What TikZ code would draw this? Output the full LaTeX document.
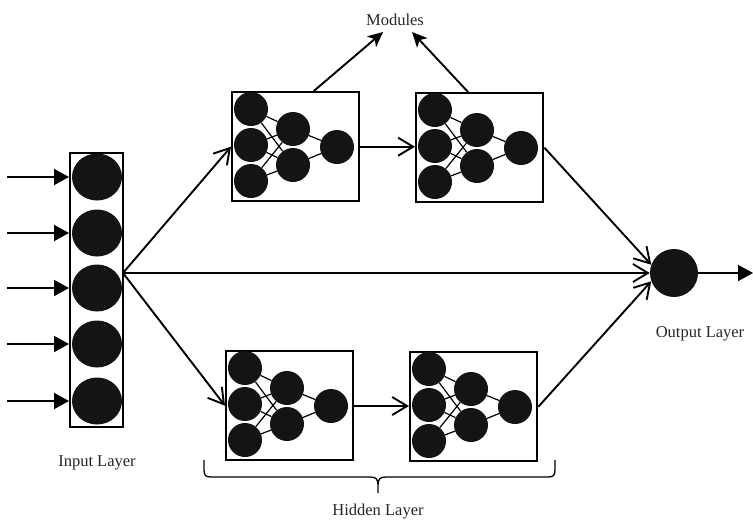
\documentclass[tikz,border=0pt]{standalone}
\usepackage{fontspec}
\setmainfont{Liberation Serif}
\usetikzlibrary{arrows.meta,shapes.geometric,calc}
\begin{document}
\begin{tikzpicture}[x=1pt,y=-1pt,
  neuron/.style={circle,fill=black!92,inner sep=0pt,minimum size=34pt},
  inneuron/.style={ellipse,fill=black!92,inner sep=0pt,minimum width=50pt,minimum height=47pt},
  modbox/.style={draw,line width=2.4pt,inner sep=0pt,minimum width=127pt,minimum height=109pt,anchor=north west},
  wire/.style={line width=1.2pt},
  conn/.style={line width=1.9pt,-{Straight Barb[length=15pt,width=18pt]}},
  inarrow/.style={line width=1.6pt,-{Triangle[length=15pt,width=16pt]}},
  uparrow/.style={line width=1.9pt,-{Stealth[length=15pt,width=14pt,inset=4pt]}},
  lbl/.style={font=\fontsize{16.5}{19}\selectfont,text=black!85},
  module/.pic={
    \node[modbox] (-box) at (0,0) {};
    \node[neuron] (-a1) at (20,18) {};
    \node[neuron] (-a2) at (20,54) {};
    \node[neuron] (-a3) at (20,90) {};
    \node[neuron] (-b1) at (62,38) {};
    \node[neuron] (-b2) at (62,74) {};
    \node[neuron] (-c) at (106,56) {};
    \foreach \a in {a1,a2,a3}{\foreach \b in {b1,b2}{\draw[wire] (-\a) -- (-\b);}}
    \draw[wire] (-b1) -- (-c);
    \draw[wire] (-b2) -- (-c);
  }
]
\useasboundingbox (0,0) rectangle (753,520);

% input layer
\node[draw,line width=2pt,minimum width=53pt,minimum height=274pt,inner sep=0pt] (inbox) at (96.5,290) {};
\foreach \i/\y in {1/177,2/233,3/288,4/344,5/401}{
  \node[inneuron] (n\i) at (97,\y) {};
  \coordinate (s\i) at (7,\y);
  \draw[inarrow] (s\i) -- (s\i -| inbox.west);
}

% modules
\pic (t1) at (231,91) {module};
\pic (t2) at (415,92) {module};
\pic (b1) at (225,350) {module};
\pic (b2) at (409,351) {module};

% output
\node[circle,fill=black!92,inner sep=0pt,minimum size=48pt] (out) at (674,273) {};
\coordinate (split) at (123,273);
\coordinate (outend) at (753,273);

\draw[conn] (split) -- (out.west);
\draw[conn] (split) -- (t1-box.west);
\draw[conn] (split) -- (b1-box.west);
\draw[conn] (t1-box.east) -- (t2-box.west |- t1-box.east);
\draw[conn] (b1-box.east |- b1-c) -- (b2-box.west |- b1-c);
\draw[conn] (t2-box.east) -- (out.160);
\draw[conn] (b2-box.east) -- (out.200);
\draw[inarrow] (out.east) -- (outend);

% modules label
\node[lbl] (modlbl) at (395,20) {Modules};
\coordinate (m1) at (383,32);
\coordinate (m2) at (412,32);
\draw[uparrow] ($(t1-box.north west)!0.64!(t1-box.north east)$) -- (m1);
\draw[uparrow] ($(t2-box.north west)!0.41!(t2-box.north east)$) -- (m2);

% brace
\draw[line width=1.3pt] (204,460) -- (204,470) .. controls (204,476) and (206,477) .. (212,477)
  -- (370,477) .. controls (376,477) and (378,479) .. (378,485) -- (378,493)
  -- (378,485) .. controls (378,479) and (380,477) .. (386,477)
  -- (547,477) .. controls (553,477) and (555,476) .. (555,470) -- (555,460);

% labels
\node[lbl] (inlbl) at (97,463) {Input Layer};
\node[lbl] (outlbl) at (700,334) {Output Layer};
\node[lbl] (hidlbl) at (378,512) {Hidden Layer};
\end{tikzpicture}
\end{document}
